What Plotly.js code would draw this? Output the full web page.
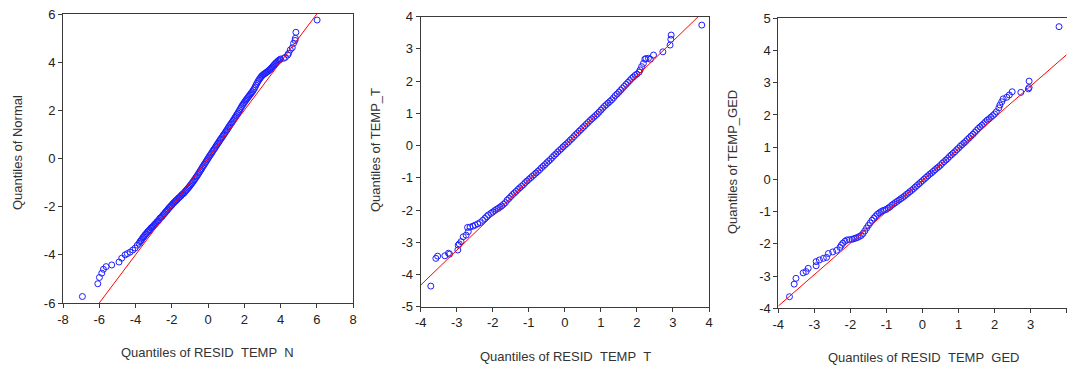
<!DOCTYPE html>
<html>
<head>
<meta charset="utf-8">
<script src="https://cdn.plot.ly/plotly-3.0.1.min.js"></script>
<style>html,body{margin:0;padding:0;background:#fff;}#chart{width:1067px;height:367px;}</style>
</head>
<body>
<div id="chart"></div>
<script>
// ---- Panel 1: Quantiles of RESID_TEMP_N vs Normal ----
const n_x = [-6.93,-6.08,-5.99,-5.86,-5.77,-5.62,-5.31,-4.91,-4.76,-4.57,-4.45,-4.30,-4.15,-4.02,-3.90,
  -3.80,-3.75,-3.70,-3.65,-3.60,-3.55,-3.50,-3.45,-3.40,-3.35,-3.30,-3.25,-3.20,-3.15,-3.10,-3.05,
  -3.00,-2.95,-2.90,-2.85,-2.80,-2.75,-2.70,-2.65,-2.60,-2.55,-2.50,-2.45,-2.40,-2.35,-2.30,-2.25,
  -2.20,-2.15,-2.10,-2.05,-2.00,-1.95,-1.90,-1.85,-1.80,-1.75,-1.70,-1.65,-1.60,-1.55,-1.50,-1.45,
  -1.40,-1.35,-1.30,-1.25,-1.20,-1.15,-1.10,-1.05,-1.00,-0.95,-0.90,-0.85,-0.80,-0.75,-0.70,-0.65,
  -0.60,-0.55,-0.50,-0.45,-0.40,-0.35,-0.30,-0.25,-0.20,-0.15,-0.10,-0.05,0.00,0.05,0.10,0.15,
  0.20,0.25,0.30,0.35,0.40,0.45,0.50,0.55,0.60,0.65,0.70,0.75,0.80,0.85,0.90,0.95,
  1.00,1.05,1.10,1.15,1.20,1.25,1.30,1.35,1.40,1.45,1.50,1.55,1.60,1.65,1.70,1.75,
  1.80,1.85,1.90,1.95,2.00,2.05,2.10,2.15,2.20,2.25,2.30,2.35,2.40,2.45,2.50,2.55,
  2.60,2.65,2.70,2.75,2.80,2.85,2.90,2.95,3.00,3.05,3.10,3.15,3.20,3.25,3.30,3.35,
  3.40,3.45,3.50,3.55,3.60,3.65,3.70,3.75,3.80,3.85,3.90,3.95,4.00,
  4.17,4.27,4.40,4.45,4.54,4.65,4.72,4.80,4.82,4.85,6.02];
const n_y = [-5.73,-5.20,-4.94,-4.76,-4.60,-4.49,-4.42,-4.30,-4.14,-4.00,-3.95,-3.89,-3.80,-3.72,-3.60,
  -3.52,-3.45,-3.41,-3.36,-3.29,-3.26,-3.20,-3.15,-3.12,-3.06,-3.03,-2.98,-2.95,-2.89,-2.86,-2.83,
  -2.79,-2.74,-2.71,-2.66,-2.62,-2.59,-2.54,-2.48,-2.45,-2.42,-2.37,-2.32,-2.29,-2.23,-2.19,-2.15,
  -2.10,-2.05,-2.02,-1.97,-1.94,-1.88,-1.85,-1.81,-1.77,-1.74,-1.70,-1.66,-1.63,-1.59,-1.56,-1.51,
  -1.48,-1.45,-1.41,-1.36,-1.32,-1.28,-1.23,-1.19,-1.14,-1.09,-1.04,-0.99,-0.94,-0.88,-0.83,-0.77,
  -0.72,-0.66,-0.60,-0.54,-0.48,-0.42,-0.35,-0.30,-0.24,-0.18,-0.12,-0.06,0.00,0.06,0.12,0.17,
  0.23,0.29,0.35,0.40,0.46,0.52,0.58,0.63,0.69,0.75,0.80,0.86,0.91,0.97,1.02,1.08,
  1.14,1.19,1.25,1.31,1.37,1.42,1.48,1.53,1.59,1.65,1.71,1.77,1.83,1.89,1.95,2.02,
  2.08,2.15,2.21,2.27,2.32,2.38,2.43,2.48,2.53,2.58,2.63,2.68,2.73,2.78,2.84,2.90,
  2.97,3.05,3.12,3.19,3.25,3.31,3.36,3.41,3.45,3.48,3.51,3.54,3.56,3.59,3.62,3.65,
  3.68,3.72,3.76,3.80,3.85,3.89,3.93,3.97,4.00,4.04,4.07,4.10,4.13,
  4.16,4.20,4.30,4.37,4.51,4.60,4.78,4.90,4.99,5.24,5.75];
const n_line_x = [-6, 6];
const n_line_y = [-6, 6];

// ---- Panel 2: Quantiles of RESID_TEMP_T vs TEMP_T ----
const t_x = [-3.72,-3.58,-3.53,-3.33,-3.23,-3.20,-2.97,-2.96,-2.93,-2.88,-2.82,-2.74,-2.68,-2.70,-2.63,-2.55,-2.49,-2.42,-2.35,-2.28,
  -2.22,-2.17,-2.12,-2.05,
  -2.00,-1.95,-1.90,-1.85,-1.80,-1.75,-1.70,-1.65,-1.60,-1.55,-1.50,-1.45,-1.40,-1.35,-1.30,-1.25,
  -1.20,-1.15,-1.10,-1.05,-1.00,-0.95,-0.90,-0.85,-0.80,-0.75,-0.70,-0.65,-0.60,-0.55,-0.50,-0.45,
  -0.40,-0.35,-0.30,-0.25,-0.20,-0.15,-0.10,-0.05,0.00,0.05,0.10,0.15,0.20,0.25,0.30,0.35,
  0.40,0.45,0.50,0.55,0.60,0.65,0.70,0.75,0.80,0.85,0.90,0.95,1.00,1.05,1.10,1.15,
  1.20,1.25,1.30,1.35,1.40,1.45,1.50,1.55,1.60,1.65,1.70,1.75,1.80,1.85,1.90,1.95,2.00,
  2.06,2.09,2.13,2.18,2.22,2.25,2.32,2.37,2.46,2.72,2.92,2.94,2.95,3.80];
const t_y = [-4.36,-3.50,-3.43,-3.42,-3.34,-3.37,-3.24,-3.09,-3.05,-2.98,-2.83,-2.78,-2.67,-2.54,-2.53,-2.50,-2.47,-2.43,-2.39,-2.32,
  -2.26,-2.20,-2.15,-2.10,
  -2.06,-2.02,-1.98,-1.95,-1.91,-1.87,-1.82,-1.77,-1.69,-1.64,-1.58,-1.52,-1.47,-1.42,-1.36,-1.31,
  -1.26,-1.21,-1.15,-1.10,-1.05,-1.00,-0.95,-0.90,-0.85,-0.80,-0.75,-0.69,-0.64,-0.59,-0.53,-0.48,
  -0.43,-0.37,-0.31,-0.26,-0.20,-0.15,-0.10,-0.04,0.01,0.06,0.11,0.17,0.22,0.28,0.34,0.39,
  0.45,0.50,0.56,0.61,0.67,0.72,0.78,0.83,0.88,0.93,0.98,1.04,1.10,1.16,1.22,1.27,
  1.32,1.37,1.42,1.48,1.55,1.60,1.66,1.72,1.78,1.84,1.90,1.96,2.02,2.08,2.13,2.18,2.22,
  2.28,2.35,2.45,2.55,2.68,2.70,2.71,2.68,2.81,2.91,3.12,3.30,3.43,3.74];
const t_line_x = [-4, 3.7];
const t_line_y = [-4.33, 4.0];

// ---- Panel 3: Quantiles of RESID_TEMP_GED vs TEMP_GED ----
const g_x = [-3.69,-3.56,-3.51,-3.31,-3.23,-3.17,-2.95,-2.95,-2.86,-2.75,-2.66,-2.61,-2.49,-2.38,-2.29,-2.25,-2.21,-2.15,-2.10,-2.03,
  -1.95,-1.90,-1.85,-1.80,-1.75,-1.70,-1.65,-1.60,-1.55,-1.50,-1.45,-1.40,-1.35,-1.30,-1.25,-1.20,
  -1.15,-1.10,-1.05,-1.00,-0.95,-0.90,-0.85,-0.80,-0.75,-0.70,-0.65,-0.60,-0.55,-0.50,-0.45,-0.40,
  -0.35,-0.30,-0.25,-0.20,-0.15,-0.10,-0.05,0.00,0.05,0.10,0.15,0.20,0.25,0.30,0.35,0.40,
  0.45,0.50,0.55,0.60,0.65,0.70,0.75,0.80,0.85,0.90,0.95,1.00,1.05,1.10,1.15,1.20,
  1.25,1.30,1.35,1.40,1.45,1.50,1.55,1.60,1.65,1.70,1.75,1.80,1.85,1.90,1.95,2.00,2.05,
  2.12,2.15,2.20,2.24,2.34,2.41,2.49,2.73,2.94,2.96,2.96,3.79];
const g_y = [-3.64,-3.25,-3.07,-2.90,-2.86,-2.76,-2.68,-2.55,-2.50,-2.45,-2.42,-2.30,-2.25,-2.20,-2.11,-2.04,-1.98,-1.92,-1.88,-1.87,
  -1.86,-1.84,-1.82,-1.80,-1.77,-1.74,-1.68,-1.60,-1.51,-1.43,-1.35,-1.27,-1.20,-1.14,-1.08,-1.04,
  -1.00,-0.97,-0.95,-0.93,-0.89,-0.85,-0.80,-0.76,-0.72,-0.68,-0.64,-0.60,-0.56,-0.52,-0.47,-0.43,
  -0.38,-0.34,-0.29,-0.24,-0.19,-0.14,-0.09,-0.04,0.01,0.06,0.11,0.16,0.20,0.25,0.30,0.35,
  0.39,0.44,0.50,0.55,0.60,0.65,0.71,0.76,0.81,0.86,0.92,0.97,1.03,1.08,1.13,1.18,
  1.24,1.29,1.35,1.40,1.46,1.52,1.58,1.63,1.68,1.73,1.79,1.84,1.88,1.93,1.98,2.03,2.10,
  2.22,2.31,2.41,2.50,2.55,2.62,2.72,2.70,2.81,2.85,3.05,4.74];
const g_line_x = [-4, 4];
const g_line_y = [-3.93, 3.87];

const n_ticks_x = [-8,-6,-4,-2,0,2,4,6,8];
const n_ticks_y = [-6,-4,-2,0,2,4,6];
const t_ticks_x = [-4,-3,-2,-1,0,1,2,3,4];
const t_ticks_y = [-5,-4,-3,-2,-1,0,1,2,3,4];
const g_ticks_x = [-4,-3,-2,-1,0,1,2,3,4];
const g_ticks_y = [-4,-3,-2,-1,0,1,2,3,4,5];

const W = 1067, H = 367;
const FONT = 'Liberation Sans, Arial, sans-serif';

function pts(x, y, xa, ya) {
  return {x: x, y: y, xaxis: xa, yaxis: ya, type: 'scatter', mode: 'markers', hoverinfo: 'skip',
    marker: {symbol: 'circle-open', size: 6, color: 'rgb(30,30,255)', line: {width: 1, color: 'rgb(30,30,255)'}}};
}
function ln(x, y, xa, ya) {
  return {x: x, y: y, xaxis: xa, yaxis: ya, type: 'scatter', mode: 'lines', hoverinfo: 'skip',
    line: {color: 'rgb(255,0,0)', width: 1}};
}
function ax(domain, range, ticks, anchor) {
  return {domain: domain, range: range, tickvals: ticks, ticktext: ticks.map(String), anchor: anchor,
    showgrid: false, zeroline: false, showline: true, mirror: true, linecolor: '#3a3a3a', linewidth: 1,
    ticks: 'outside', ticklen: 4, tickcolor: '#3a3a3a', tickfont: {family: FONT, size: 13, color: '#222'}};
}
const px = v => v / W;
const py = v => 1 - v / H;

const data = [
  pts(n_x, n_y, 'x', 'y'), ln(n_line_x, n_line_y, 'x', 'y'),
  pts(t_x, t_y, 'x2', 'y2'), ln(t_line_x, t_line_y, 'x2', 'y2'),
  pts(g_x, g_y, 'x3', 'y3'), ln(g_line_x, g_line_y, 'x3', 'y3')
];

const titleFont = {family: FONT, size: 13, color: '#333'};
function ann(text, x, y, angle) {
  return {text: text, xref: 'paper', yref: 'paper', x: px(x), y: py(y), xanchor: 'center', yanchor: 'middle',
    showarrow: false, textangle: angle || 0, font: titleFont};
}

const layout = {
  width: W, height: H, margin: {l: 0, r: 0, t: 0, b: 0}, showlegend: false,
  paper_bgcolor: '#fff', plot_bgcolor: '#fff',
  xaxis: ax([px(63), px(353)], [-8, 8], n_ticks_x, 'y'),
  yaxis: ax([py(303), py(14)], [-6, 6], n_ticks_y, 'x'),
  xaxis2: ax([px(420.7), px(709)], [-4, 4], t_ticks_x, 'y2'),
  yaxis2: ax([py(306.7), py(16.7)], [-5, 4], t_ticks_y, 'x2'),
  xaxis3: ax([px(778.3), px(1066.6)], [-4, 4], g_ticks_x, 'y3'),
  yaxis3: ax([py(308.3), py(18.3)], [-4, 5], g_ticks_y, 'x3'),
  annotations: [
    ann('Quantiles of RESID\u00a0\u00a0TEMP\u00a0\u00a0N', 207, 352),
    ann('Quantiles of Normal', 17, 153, -90),
    ann('Quantiles of RESID\u00a0\u00a0TEMP\u00a0\u00a0T', 565, 356),
    ann('Quantiles of TEMP_T', 375, 150, -90),
    ann('Quantiles of RESID\u00a0\u00a0TEMP\u00a0\u00a0GED', 923, 357),
    ann('Quantiles of TEMP_GED', 732, 162, -90)
  ]
};

Plotly.newPlot('chart', data, layout, {staticPlot: true, displayModeBar: false});
</script>
</body>
</html>
